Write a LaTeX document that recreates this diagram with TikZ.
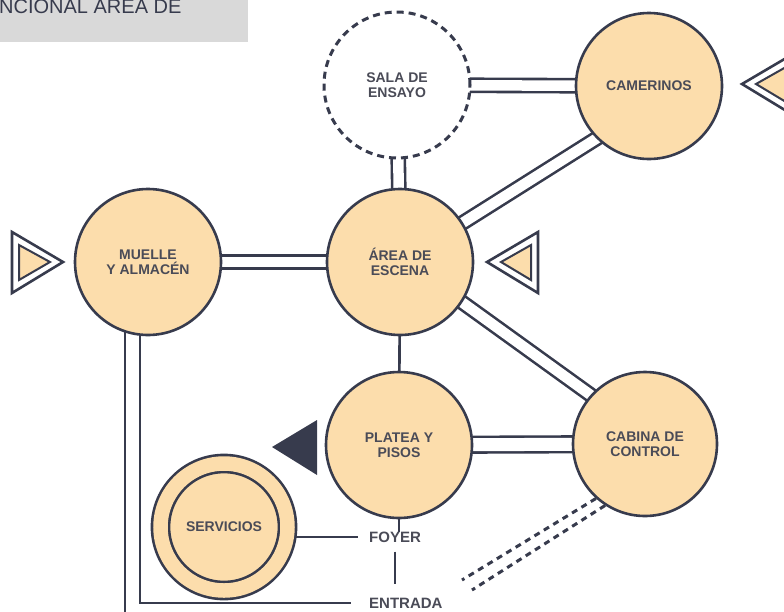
\documentclass[tikz,border=0pt]{standalone}
\usepackage{fontspec}
\setmainfont{Liberation Sans}
\usepackage{xcolor}
\usepackage{tikz}
\usetikzlibrary{backgrounds}

\definecolor{linea}{HTML}{373B4D}
\definecolor{relleno}{HTML}{FCDDAC}
\definecolor{texto}{HTML}{4A4B57}
\definecolor{titulo}{HTML}{D9D9D9}

\begin{document}
\begin{tikzpicture}[x=1pt, y=-1pt,
    zona/.style={circle, draw=linea, line width=2.6pt, fill=relleno, minimum size=146pt,
        inner sep=0pt, align=center, text=texto, font=\fontsize{14}{15}\selectfont\bfseries},
    zonaext/.style={zona, fill=white, dash pattern=on 7pt off 5pt, line width=3pt},
    doble/.style={draw=linea, line width=2.6pt, double=white, double distance=10.5pt},
    simple/.style={draw=linea, line width=2.6pt},
    punteado/.style={draw=linea, line width=3pt, dash pattern=on 6pt off 5pt},
    rotulo/.style={anchor=west, inner sep=0pt, text=texto, font=\fontsize{15}{15}\selectfont\bfseries},
    acceso/.style={draw=linea, line width=2.6pt, fill=white, line join=miter},
    accesoint/.style={draw=linea, line width=2pt, fill=relleno, line join=miter}]
    \useasboundingbox (0,0) rectangle (784,611);

    % Title strip (cut at the top)
    \fill[titulo] (0,0) rectangle (248,42);
    \node[anchor=base west, inner sep=0pt, text=linea, font=\fontsize{20}{20}\selectfont] (titulo) at (-1,13) {NCIONAL ÁREA DE};

    % Zones
    \node[zonaext] (sala) at (397,85) {SALA DE\\ENSAYO};
    \node[zona] (camerinos) at (649,86) {CAMERINOS};
    \node[zona] (muelle) at (148,262) {MUELLE\\Y ALMACÉN};
    \node[zona] (area) at (400,262) {ÁREA DE\\ESCENA};
    \node[zona] (platea) at (399,445) {PLATEA Y\\PISOS};
    \node[zona, minimum size=144pt] (cabina) at (645,444) {CABINA DE\\CONTROL};
    % Services: double ring
    \node[zona, minimum size=127pt, double=relleno, double distance=14.5pt] (servicios) at (224,527) {SERVICIOS};

    % Access labels
    \node[rotulo] (foyer) at (369,537) {FOYER};
    \node[rotulo] (entrada) at (369,603) {ENTRADA};

    % Connectors (behind the zones)
    \begin{scope}[on background layer]
        \draw[doble] (sala.center) -- (camerinos.center);
        \draw[doble] (sala.center) -- (area.center);
        \draw[doble] (muelle.center) -- (area.center);
        \draw[doble, shorten <=-6pt, shorten >=-6pt] (area.32) -- (camerinos.225);
        \draw[doble, shorten <=-6pt, shorten >=-6pt] (area.-33) -- (cabina.138);
        \draw[doble, double distance=13pt] (platea.center) -- (cabina.center);
        \draw[simple] (area.center) -- (platea.center);
        % foyer and entrance
        \draw[simple] (platea.center) -- (platea |- foyer.north);
        \draw[simple] ([yshift=-9pt]foyer.south) -- ([yshift=14pt]foyer.south |- entrada.north);
        \draw[simple] (servicios.center |- foyer.west) -- ([xshift=-11pt]foyer.west);
        % dock exits
        \coordinate (salida) at (125,615);
        \draw[simple] ([xshift=-23pt]muelle.center) -- (salida);
        \draw[simple] ([xshift=-8pt]muelle.center) |- ([xshift=-18pt]entrada.west);
        % control booth dashed link
        \coordinate (fin1) at (462,580);
        \coordinate (fin2) at (472,590);
        \draw[punteado] (cabina.228) -- (fin1);
        \draw[punteado] (cabina.237) -- (fin2);
    \end{scope}

    % Access arrows
    \draw[acceso] (12,232) -- (63,262) -- (12,293) -- cycle;
    \draw[accesoint] (19,245) -- (50,262) -- (19,280) -- cycle;

    \draw[acceso] (487,262) -- (538,232) -- (538,293) -- cycle;
    \draw[accesoint] (501,262) -- (531,245) -- (531,280) -- cycle;

    \draw[acceso] (742,84) -- (793,54) -- (793,115) -- cycle;
    \draw[accesoint] (756,84) -- (786,67) -- (786,102) -- cycle;

    % Public access
    \fill[linea] (272,447) -- (317,420) -- (317,475) -- cycle;
\end{tikzpicture}
\end{document}
